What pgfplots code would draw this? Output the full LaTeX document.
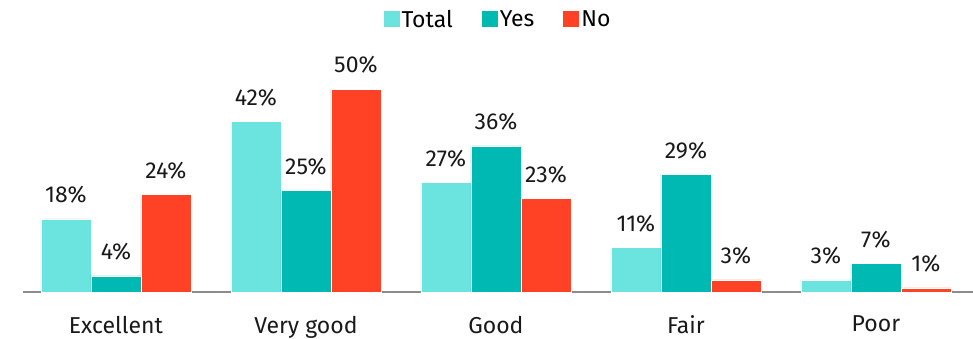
\documentclass[border=0pt]{standalone}
\usepackage{pgfplots}
\pgfplotsset{compat=1.18}
\usepackage{fontspec}
\setmainfont{Fira Sans}
\definecolor{cTotal}{HTML}{6BE3DF}
\definecolor{cYes}{HTML}{00B9B3}
\definecolor{cNo}{HTML}{FF4125}
\begin{document}
\begin{tikzpicture}
\path[use as bounding box] (-23pt,-47pt) rectangle (950pt,292pt);
\begin{axis}[
  at={(0pt,0pt)}, anchor=south west,
  scale only axis, width=950pt, height=231.4pt,
  xmin=-0.489, xmax=4.511, ymin=0, ymax=57,
  ybar=0pt, bar width=50pt,
  axis x line*=bottom, axis y line=none,
  x axis line style={draw=black!45, line width=1.2pt, -},
  xtick={0,1,2,3,4},
  xticklabels={Excellent,Very good,Good,Fair,Poor},
  xtick style={draw=none},
  xticklabel style={font=\fontsize{23}{27}\selectfont, yshift=-16pt, text=black!90},
  ytick=\empty,
  clip=false,
  /pgf/number format/assume math mode=true,
  nodes near coords={\pgfmathprintnumber{\pgfplotspointmeta}\%},
  every node near coord/.append style={font=\fontsize{23}{27}\selectfont, text=black!90, yshift=12pt},
  legend style={at={(0.5,1.178)}, anchor=center, draw=none, fill=none,
    legend columns=-1, font=\fontsize{23}{27}\selectfont,
    /tikz/every even column/.append style={column sep=27pt}},
  legend image code/.code={\fill[#1,draw=none] (0pt,-8pt) rectangle (16pt,8pt);},
]
\addplot[fill=cTotal, draw=white, line width=0.3pt] coordinates {(0,18) (1,42) (2,27) (3,11) (4,3)};
\addplot[fill=cYes, draw=white, line width=0.3pt] coordinates {(0,4) (1,25) (2,36) (3,29) (4,7)};
\addplot[fill=cNo, draw=white, line width=0.3pt] coordinates {(0,24) (1,50) (2,23) (3,3) (4,1)};
\legend{Total,Yes,No}
\end{axis}
\end{tikzpicture}
\end{document}
